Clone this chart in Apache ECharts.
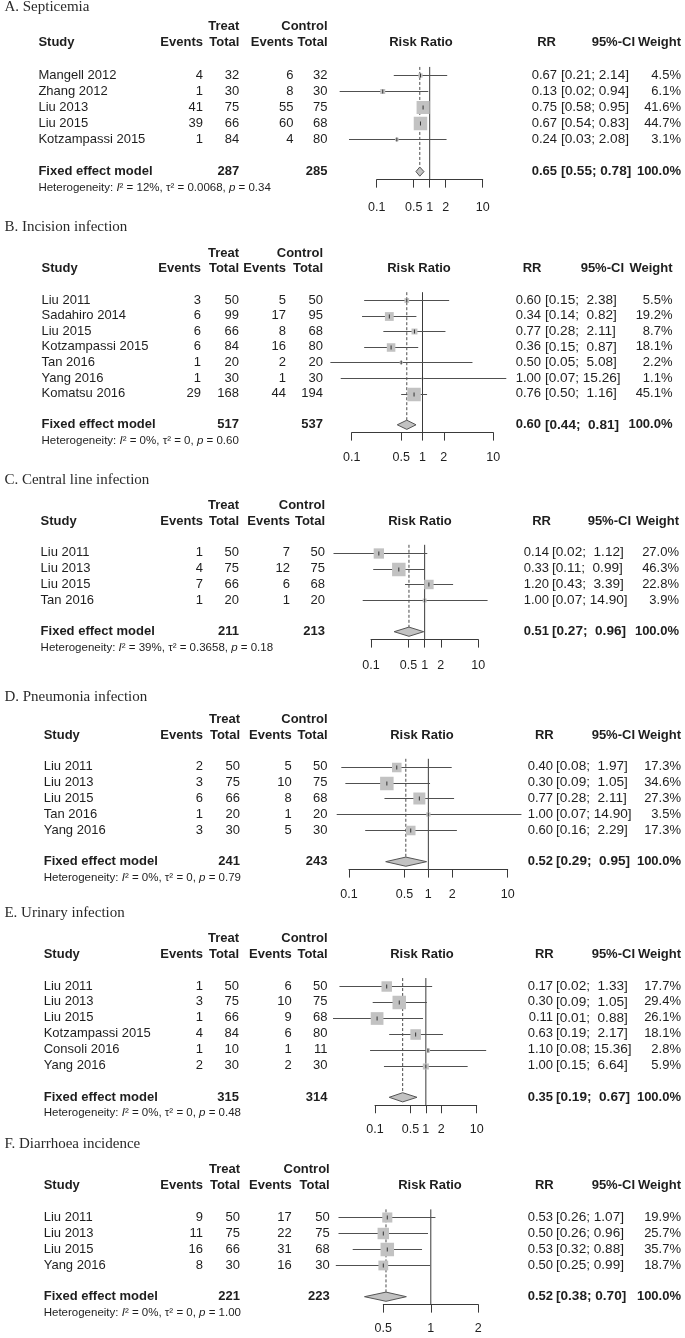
<!DOCTYPE html>
<html><head><meta charset="utf-8">
<script src="https://cdn.jsdelivr.net/npm/echarts@6/dist/echarts.min.js"></script>
<style>html,body{margin:0;padding:0;background:#fff}#c{width:685px;height:1338px}</style>
</head><body><div id="c"></div><script>
// ================= DATA =================
// A. Septicemia
const titleA = 'A. Septicemia';
const studyA = ['Mangell 2012','Zhang 2012','Liu 2013','Liu 2015','Kotzampassi 2015'];
const treatEventsA = [4,1,41,39,1];
const treatTotalA = [32,30,75,66,84];
const ctrlEventsA = [6,8,55,60,4];
const ctrlTotalA = [32,30,75,68,80];
const rrA = [0.67,0.13,0.75,0.67,0.24];
const lowerA = [0.21,0.02,0.58,0.54,0.03];
const upperA = [2.14,0.94,0.95,0.83,2.08];
const weightA = [4.5,6.1,41.6,44.7,3.1];
const fixedTotalsA = [287,285];
const fixedRRA = [0.65,0.55,0.78];
const hetA = ['12%','0.0068','0.34'];
const ticksA = [0.1,0.5,1,2,10];

// B. Incision infection
const titleB = 'B. Incision infection';
const studyB = ['Liu 2011','Sadahiro 2014','Liu 2015','Kotzampassi 2015','Tan 2016','Yang 2016','Komatsu 2016'];
const treatEventsB = [3,6,6,6,1,1,29];
const treatTotalB = [50,99,66,84,20,30,168];
const ctrlEventsB = [5,17,8,16,2,1,44];
const ctrlTotalB = [50,95,68,80,20,30,194];
const rrB = [0.60,0.34,0.77,0.36,0.50,1.00,0.76];
const lowerB = [0.15,0.14,0.28,0.15,0.05,0.07,0.50];
const upperB = [2.38,0.82,2.11,0.87,5.08,15.26,1.16];
const weightB = [5.5,19.2,8.7,18.1,2.2,1.1,45.1];
const fixedTotalsB = [517,537];
const fixedRRB = [0.60,0.44,0.81];
const hetB = ['0%','0','0.60'];
const ticksB = [0.1,0.5,1,2,10];

// C. Central line infection
const titleC = 'C. Central line infection';
const studyC = ['Liu 2011','Liu 2013','Liu 2015','Tan 2016'];
const treatEventsC = [1,4,7,1];
const treatTotalC = [50,75,66,20];
const ctrlEventsC = [7,12,6,1];
const ctrlTotalC = [50,75,68,20];
const rrC = [0.14,0.33,1.20,1.00];
const lowerC = [0.02,0.11,0.43,0.07];
const upperC = [1.12,0.99,3.39,14.90];
const weightC = [27.0,46.3,22.8,3.9];
const fixedTotalsC = [211,213];
const fixedRRC = [0.51,0.27,0.96];
const hetC = ['39%','0.3658','0.18'];
const ticksC = [0.1,0.5,1,2,10];

// D. Pneumonia infection
const titleD = 'D. Pneumonia infection';
const studyD = ['Liu 2011','Liu 2013','Liu 2015','Tan 2016','Yang 2016'];
const treatEventsD = [2,3,6,1,3];
const treatTotalD = [50,75,66,20,30];
const ctrlEventsD = [5,10,8,1,5];
const ctrlTotalD = [50,75,68,20,30];
const rrD = [0.40,0.30,0.77,1.00,0.60];
const lowerD = [0.08,0.09,0.28,0.07,0.16];
const upperD = [1.97,1.05,2.11,14.90,2.29];
const weightD = [17.3,34.6,27.3,3.5,17.3];
const fixedTotalsD = [241,243];
const fixedRRD = [0.52,0.29,0.95];
const hetD = ['0%','0','0.79'];
const ticksD = [0.1,0.5,1,2,10];

// E. Urinary infection
const titleE = 'E. Urinary infection';
const studyE = ['Liu 2011','Liu 2013','Liu 2015','Kotzampassi 2015','Consoli 2016','Yang 2016'];
const treatEventsE = [1,3,1,4,1,2];
const treatTotalE = [50,75,66,84,10,30];
const ctrlEventsE = [6,10,9,6,1,2];
const ctrlTotalE = [50,75,68,80,11,30];
const rrE = [0.17,0.30,0.11,0.63,1.10,1.00];
const lowerE = [0.02,0.09,0.01,0.19,0.08,0.15];
const upperE = [1.33,1.05,0.88,2.17,15.36,6.64];
const weightE = [17.7,29.4,26.1,18.1,2.8,5.9];
const fixedTotalsE = [315,314];
const fixedRRE = [0.35,0.19,0.67];
const hetE = ['0%','0','0.48'];
const ticksE = [0.1,0.5,1,2,10];

// F. Diarrhoea incidence
const titleF = 'F. Diarrhoea incidence';
const studyF = ['Liu 2011','Liu 2013','Liu 2015','Yang 2016'];
const treatEventsF = [9,11,16,8];
const treatTotalF = [50,75,66,30];
const ctrlEventsF = [17,22,31,16];
const ctrlTotalF = [50,75,68,30];
const rrF = [0.53,0.50,0.53,0.50];
const lowerF = [0.26,0.26,0.32,0.25];
const upperF = [1.07,0.96,0.88,0.99];
const weightF = [19.9,25.7,35.7,18.7];
const fixedTotalsF = [221,223];
const fixedRRF = [0.52,0.38,0.70];
const hetF = ['0%','0','1.00'];
const ticksF = [0.5,1,2];

// ================= LAYOUT (pixels) =================
const layout = [
  {first:75,    row:16.1,  x0:376.7, x1:482.7, titleRow:-4.2, lblMargin:21, clipL:0,   c:{study:38.4, evT:203, nT:239.3, evC:293.4, nC:327.5, rrH:421, rr:557, ci:561, w:681, rrHdr:556, ciHdr:635, wHdr:681}},
  {first:300,   row:15.6,  x0:351.7, x1:493.3, titleRow:-4.7, lblMargin:18, clipL:0,   c:{study:41.5, evT:201, nT:239, evC:286, nC:323, rrH:419, rr:541, ci:545, w:672.5, rrHdr:541.5, ciHdr:624, wHdr:672.5}},
  {first:552.7, row:15.8,  x0:371,   x1:478.3, titleRow:-4.6, lblMargin:19, clipL:0,   c:{study:40.6, evT:203, nT:239, evC:290, nC:325, rrH:420, rr:549, ci:552, w:679, rrHdr:551, ciHdr:631, wHdr:679}},
  {first:766.7, row:15.83, x0:349,   x1:507.7, titleRow:-4.4, lblMargin:18, clipL:0,   c:{study:43.7, evT:203, nT:240, evC:291.7, nC:327.5, rrH:422, rr:553, ci:556, w:681, rrHdr:553.7, ciHdr:635, wHdr:681}},
  {first:986,   row:15.9,  x0:375,   x1:476.7, titleRow:-4.6, lblMargin:18, clipL:333, c:{study:43.7, evT:203, nT:239, evC:291.7, nC:327.5, rrH:422, rr:553, ci:556, w:681, rrHdr:553.7, ciHdr:635, wHdr:681}},
  {first:1217.3,row:15.88, x0:383.3, x1:478.3, titleRow:-4.6, lblMargin:17, clipL:0,   c:{study:43.7, evT:203, nT:240, evC:291.7, nC:329.7, rrH:430, rr:553, ci:556, w:681, rrHdr:553.7, ciHdr:635, wHdr:681}}
];

const panels = [
  {title:titleA, study:studyA, eT:treatEventsA, nT:treatTotalA, eC:ctrlEventsA, nC:ctrlTotalA, rr:rrA, lo:lowerA, hi:upperA, w:weightA, tot:fixedTotalsA, fx:fixedRRA, het:hetA, ticks:ticksA},
  {title:titleB, study:studyB, eT:treatEventsB, nT:treatTotalB, eC:ctrlEventsB, nC:ctrlTotalB, rr:rrB, lo:lowerB, hi:upperB, w:weightB, tot:fixedTotalsB, fx:fixedRRB, het:hetB, ticks:ticksB},
  {title:titleC, study:studyC, eT:treatEventsC, nT:treatTotalC, eC:ctrlEventsC, nC:ctrlTotalC, rr:rrC, lo:lowerC, hi:upperC, w:weightC, tot:fixedTotalsC, fx:fixedRRC, het:hetC, ticks:ticksC},
  {title:titleD, study:studyD, eT:treatEventsD, nT:treatTotalD, eC:ctrlEventsD, nC:ctrlTotalD, rr:rrD, lo:lowerD, hi:upperD, w:weightD, tot:fixedTotalsD, fx:fixedRRD, het:hetD, ticks:ticksD},
  {title:titleE, study:studyE, eT:treatEventsE, nT:treatTotalE, eC:ctrlEventsE, nC:ctrlTotalE, rr:rrE, lo:lowerE, hi:upperE, w:weightE, tot:fixedTotalsE, fx:fixedRRE, het:hetE, ticks:ticksE},
  {title:titleF, study:studyF, eT:treatEventsF, nT:treatTotalF, eC:ctrlEventsF, nC:ctrlTotalF, rr:rrF, lo:lowerF, hi:upperF, w:weightF, tot:fixedTotalsF, fx:fixedRRF, het:hetF, ticks:ticksF}
];

// ================= STYLE =================
const SANS = '"Liberation Sans", Arial, Helvetica, sans-serif';
const SERIF = '"Liberation Serif", "Times New Roman", serif';
const TXT = '#1e1e1e';
const LINE = '#505050';
const BOX = '#c2c2c2';
const FS = 13;
const CIFS = 13.6;
const MAXBOX = 13.5;
const DIAMOND_H = 4.6;

function fmt2(v){ return v.toFixed(2); }
function ciText(lo, hi, wide){
  return '[' + fmt2(lo) + '; ' + ((wide && hi < 10) ? ' ' : '') + fmt2(hi) + ']';
}
function txt(x, y, s, align, opt){
  opt = opt || {};
  const st = {
    text: s, x: 0, y: 0,
    fontSize: opt.size || FS, fontFamily: opt.family || SANS,
    fontWeight: opt.bold ? 'bold' : 'normal',
    fill: opt.color || TXT,
    align: align, textAlign: align,
    verticalAlign: 'middle', textVerticalAlign: 'middle'
  };
  if (opt.rich) st.rich = opt.rich;
  return {type:'text', x: x, y: y, style: st, silent: true};
}

const grids = [], xAxes = [], yAxes = [], series = [];

panels.forEach((p, i) => {
  const L = layout[i], c = L.c;
  const n = p.study.length;
  const fxRow = n + 1;
  const tmin = p.ticks[0], tmax = p.ticks[p.ticks.length - 1];
  const wide = p.hi.some(v => v >= 10);
  const maxW = Math.max.apply(null, p.w);

  grids.push({left: L.x0, width: L.x1 - L.x0, top: L.first - 0.5 * L.row, height: (n + 2) * L.row, outerBoundsMode: 'none', containLabel: false});
  xAxes.push({
    type: 'log', logBase: 10, gridIndex: i, min: tmin, max: tmax, position: 'bottom',
    axisLine: {show: true, onZero: false, lineStyle: {color: '#3a3a3a', width: 1}},
    axisTick: {show: true, customValues: p.ticks, length: 8, inside: false, lineStyle: {color: '#3a3a3a', width: 1}},
    axisLabel: {show: true, customValues: p.ticks, margin: L.lblMargin, fontSize: 12.5, fontFamily: SANS, color: TXT,
      formatter: v => String(+(+v).toPrecision(3)), hideOverlap: false, showMinLabel: true, showMaxLabel: true},
    splitLine: {show: false}, minorTick: {show: false}
  });
  yAxes.push({type: 'value', gridIndex: i, inverse: true, min: -0.5, max: n + 1.5, show: false,
    axisLine: {onZero: false}});

  // reference lines: line of no effect (1) and pooled estimate (dashed)
  series.push({
    type: 'custom', xAxisIndex: i, yAxisIndex: i, clip: false, silent: true,
    data: [[1, -0.5, n + 1.5, 0], [p.fx[0], -0.5, fxRow, 1]],
    encode: {x: 0, y: 1},
    renderItem: (params, api) => {
      const x = api.value(0);
      const a = api.coord([x, api.value(1)]);
      const b = api.coord([x, api.value(2)]);
      const dashed = api.value(3) === 1;
      return {type: 'line', shape: {x1: a[0], y1: a[1], x2: b[0], y2: dashed ? b[1] - DIAMOND_H : b[1]},
        style: {stroke: dashed ? '#4a4a4a' : '#3a3a3a', lineWidth: 1, lineDash: dashed ? [3, 2] : null}};
    }
  });

  // study CIs and weighted squares
  series.push({
    type: 'custom', xAxisIndex: i, yAxisIndex: i, clip: false, silent: true,
    data: p.rr.map((v, k) => [v, k, p.lo[k], p.hi[k], p.w[k]]),
    encode: {x: 0, y: 1},
    renderItem: (params, api) => {
      const row = api.value(1);
      const pt = api.coord([api.value(0), row]);
      const pl = api.coord([api.value(2), row]);
      const ph = api.coord([api.value(3), row]);
      const s = MAXBOX * Math.sqrt(api.value(4) / maxW);
      const y = Math.round(pt[1]) + 0.5;
      const xl = Math.max(pl[0], L.clipL);
      return {type: 'group', children: [
        {type: 'line', shape: {x1: xl, y1: y, x2: ph[0], y2: y}, style: {stroke: LINE, lineWidth: 1}},
        {type: 'rect', shape: {x: pt[0] - s / 2, y: y - s / 2, width: s, height: s}, style: {fill: BOX}},
        {type: 'line', shape: {x1: pt[0], y1: y - 2, x2: pt[0], y2: y + 2}, style: {stroke: '#333', lineWidth: 1}}
      ]};
    }
  });

  // pooled diamond
  series.push({
    type: 'custom', xAxisIndex: i, yAxisIndex: i, clip: false, silent: true,
    data: [[p.fx[0], fxRow, p.fx[1], p.fx[2]]],
    encode: {x: 0, y: 1},
    renderItem: (params, api) => {
      const row = api.value(1);
      const pt = api.coord([api.value(0), row]);
      const pl = api.coord([api.value(2), row]);
      const ph = api.coord([api.value(3), row]);
      return {type: 'polygon', shape: {points: [[pl[0], pt[1]], [pt[0], pt[1] - DIAMOND_H], [ph[0], pt[1]], [pt[0], pt[1] + DIAMOND_H]]},
        style: {fill: BOX, stroke: '#555', lineWidth: 1}};
    }
  });

  // table text, rows positioned through the y axis
  const rows = [];
  rows.push({row: L.titleRow, kind: 'title'});
  rows.push({row: -3, kind: 'h1'});
  rows.push({row: -2, kind: 'h2'});
  for (let k = 0; k < n; k++) rows.push({row: k, kind: 'study', k: k});
  rows.push({row: fxRow, kind: 'fixed'});
  rows.push({row: fxRow + 1, kind: 'het'});

  series.push({
    type: 'custom', xAxisIndex: i, yAxisIndex: i, clip: false, silent: true,
    data: rows.map((r, j) => [tmin, r.row, j]),
    encode: {x: 0, y: 1},
    renderItem: (params, api) => {
      const r = rows[api.value(2)];
      const y = api.coord([tmin, api.value(1)])[1];
      const ch = [];
      if (r.kind === 'title') {
        ch.push(txt(4.4, y, p.title, 'left', {family: SERIF, size: 15, color: '#2a2a2a'}));
      } else if (r.kind === 'h1') {
        ch.push(txt(c.nT, y, 'Treat', 'right', {bold: true}));
        ch.push(txt(c.nC, y, 'Control', 'right', {bold: true}));
      } else if (r.kind === 'h2') {
        ch.push(txt(c.study, y, 'Study', 'left', {bold: true}));
        ch.push(txt(c.evT, y, 'Events', 'right', {bold: true}));
        ch.push(txt(c.nT, y, 'Total', 'right', {bold: true}));
        ch.push(txt(c.evC, y, 'Events', 'right', {bold: true}));
        ch.push(txt(c.nC, y, 'Total', 'right', {bold: true}));
        ch.push(txt(c.rrH, y, 'Risk Ratio', 'center', {bold: true}));
        ch.push(txt(c.rrHdr, y, 'RR', 'right', {bold: true}));
        ch.push(txt(c.ciHdr, y, '95%-CI', 'right', {bold: true}));
        ch.push(txt(c.wHdr, y, 'Weight', 'right', {bold: true}));
      } else if (r.kind === 'study') {
        const k = r.k;
        ch.push(txt(c.study, y, p.study[k], 'left'));
        ch.push(txt(c.evT, y, String(p.eT[k]), 'right'));
        ch.push(txt(c.nT, y, String(p.nT[k]), 'right'));
        ch.push(txt(c.evC, y, String(p.eC[k]), 'right'));
        ch.push(txt(c.nC, y, String(p.nC[k]), 'right'));
        ch.push(txt(c.rr, y, fmt2(p.rr[k]), 'right'));
        ch.push(txt(c.ci, y, ciText(p.lo[k], p.hi[k], wide), 'left', {size: CIFS}));
        ch.push(txt(c.w, y, p.w[k].toFixed(1) + '%', 'right'));
      } else if (r.kind === 'fixed') {
        ch.push(txt(c.study, y, 'Fixed effect model', 'left', {bold: true}));
        ch.push(txt(c.nT, y, String(p.tot[0]), 'right', {bold: true}));
        ch.push(txt(c.nC, y, String(p.tot[1]), 'right', {bold: true}));
        ch.push(txt(c.rr, y, fmt2(p.fx[0]), 'right', {bold: true}));
        ch.push(txt(c.ci, y, ciText(p.fx[1], p.fx[2], wide), 'left', {bold: true, size: CIFS}));
        ch.push(txt(c.w, y, '100.0%', 'right', {bold: true}));
      } else if (r.kind === 'het') {
        const it = {fontStyle: 'italic', fontSize: 11.5, fontFamily: SANS, fill: TXT, color: TXT};
        const s = 'Heterogeneity: {it|I}\u00B2 = ' + p.het[0] + ', \u03C4\u00B2 = ' + p.het[1] + ', {it|p} = ' + p.het[2];
        ch.push(txt(c.study, y, s, 'left', {size: 11.5, rich: {it: it}}));
      }
      return {type: 'group', children: ch};
    }
  });
});

const chart = echarts.init(document.getElementById('c'), null, {renderer: 'canvas'});
chart.setOption({
  animation: false,
  backgroundColor: '#ffffff',
  grid: grids,
  xAxis: xAxes,
  yAxis: yAxes,
  series: series
});
</script></body></html>
